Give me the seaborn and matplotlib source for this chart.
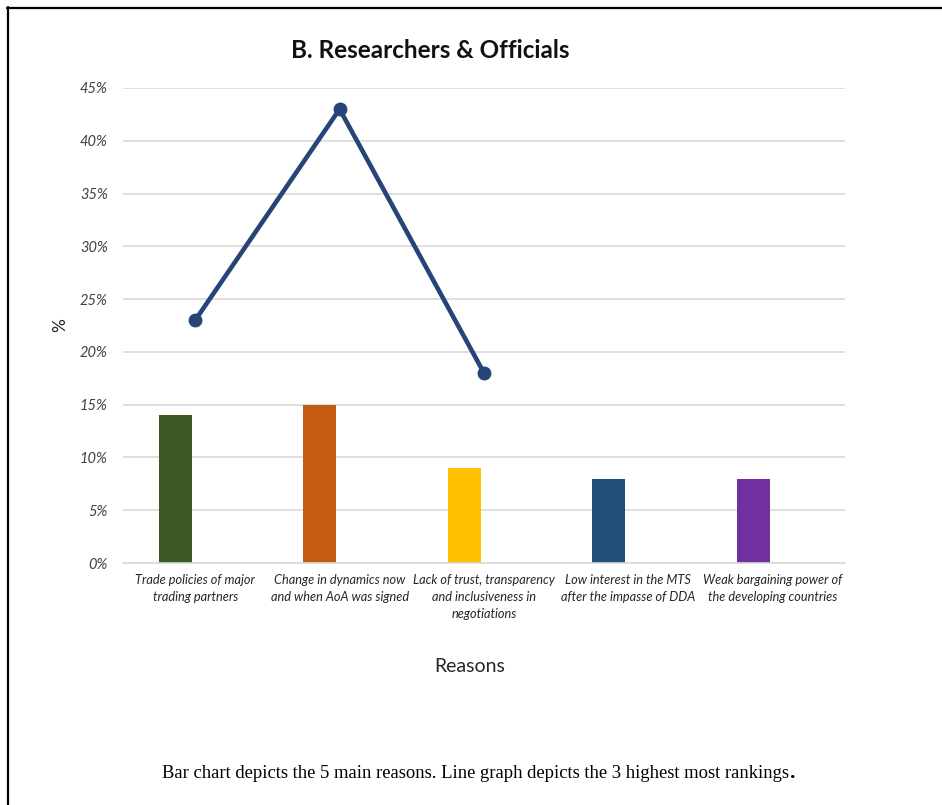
import numpy as np
import pandas as pd
import matplotlib
matplotlib.use("Agg")
import matplotlib.pyplot as plt
from matplotlib.lines import Line2D
import seaborn as sns

# Data
reasons = [
    "Trade policies of major\ntrading partners",
    "Change in dynamics now\nand when AoA was signed",
    "Lack of trust, transparency\nand inclusiveness in\nnegotiations",
    "Low interest in the MTS\nafter the impasse of DDA",
    "Weak bargaining power of\nthe developing countries",
]
bar_values = [14, 15, 9, 8, 8]          # % share, 5 main reasons
line_values = [23, 43, 18]              # % share, 3 highest rankings
bar_colors = ["#3B5724", "#C55A11", "#FFC000", "#1F4E79", "#7030A0"]
y_ticks = [0, 5, 10, 15, 20, 25, 30, 35, 40, 45]

sns.set_theme(style="white")
plt.rcParams["font.family"] = ["Lato", "DejaVu Sans"]

fig = plt.figure(figsize=(9.42, 8.05), dpi=100)
ax = fig.add_axes([123 / 942, 1 - 563 / 805, 722 / 942, 475 / 805])

# bars sit left of each category centre, the line markers on the centre
bar_shift = -0.136
df_bars = pd.DataFrame({
    "pos": np.arange(len(reasons)) + bar_shift,
    "value": bar_values,
    "reason": reasons,
})
sns.barplot(data=df_bars, x="pos", y="value", hue="reason",
            palette=bar_colors, native_scale=True, width=0.229,
            dodge=False, legend=False, saturation=1, linewidth=0,
            ax=ax, zorder=2)

df_line = pd.DataFrame({"pos": np.arange(len(line_values)), "value": line_values})
sns.lineplot(data=df_line, x="pos", y="value", color="#264478",
             linewidth=3.3, marker="o", markersize=10,
             markeredgewidth=0, ax=ax, zorder=3)

ax.set_xlim(-0.5, len(reasons) - 0.5)
ax.set_ylim(0, 45)
ax.set_yticks(y_ticks)
ax.set_yticklabels([f"{v}%" for v in y_ticks], fontstyle="italic",
                   fontsize=10.5, color="#404040")
ax.set_xticks(np.arange(len(reasons)))
ax.set_xticklabels(reasons, fontstyle="italic", fontsize=9.2,
                   color="#262626", linespacing=1.5)
ax.tick_params(axis="both", length=0)
ax.tick_params(axis="y", pad=11)
ax.tick_params(axis="x", pad=8)
ax.set_xlabel("")
ax.set_ylabel("")

ax.yaxis.grid(True, color="#D9D9D9", linewidth=1.2)
ax.set_axisbelow(True)
for side in ["top", "right", "left"]:
    ax.spines[side].set_visible(False)
ax.spines["bottom"].set_color("#D9D9D9")
ax.spines["bottom"].set_linewidth(1.2)

fig.text(430 / 942, 1 - 51 / 805, "B. Researchers & Officials",
         ha="center", va="center", fontsize=17.5, fontweight="bold",
         color="#111111")
fig.text(60 / 942, 1 - 325 / 805, "%", rotation=90, ha="center",
         va="center", fontsize=12.5, color="#262626")
fig.text(470 / 942, 1 - 666 / 805, "Reasons", ha="center", va="center",
         fontsize=14, color="#262626")

cap = fig.text(476 / 942, 1 - 773 / 805,
               "Bar chart depicts the 5 main reasons. Line graph depicts the 3 highest most rankings",
               ha="center", va="center", fontsize=13.4,
               family=["Liberation Serif", "DejaVu Serif"], color="black")
fig.canvas.draw()
bb = cap.get_window_extent()
fig.text(bb.x1 / 942 + 0.0005, 1 - 773 / 805, ".", ha="left", va="center",
         fontsize=15.5, fontweight="bold",
         family=["Liberation Serif", "DejaVu Serif"], color="black")

# frame lines along the top and left edge of the page
fig.add_artist(Line2D([7 / 942, 1.0], [1 - 8 / 805, 1 - 8 / 805],
                      transform=fig.transFigure, color="black", linewidth=1.6))
fig.add_artist(Line2D([8 / 942, 8 / 942], [0.0, 1 - 7 / 805],
                      transform=fig.transFigure, color="black", linewidth=1.6))

fig.savefig("out.png", dpi=100, facecolor="white")
